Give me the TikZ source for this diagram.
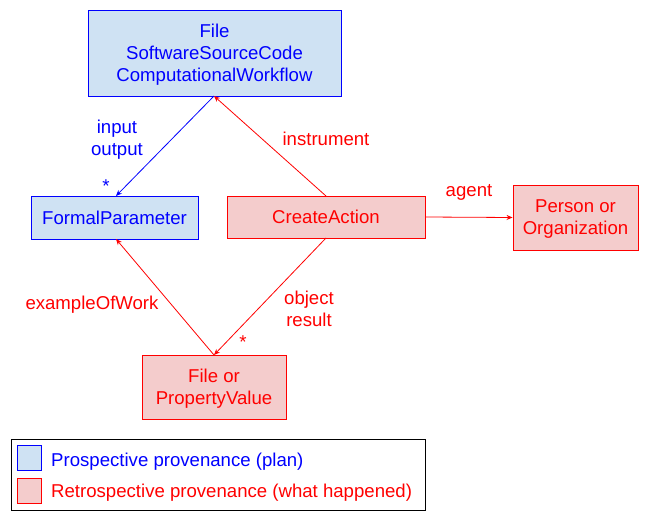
\documentclass[tikz,border=0pt]{standalone}
\usepackage{fontspec}
\setmainfont{Liberation Sans}
\usetikzlibrary{arrows.meta}
\definecolor{bfill}{HTML}{CFE2F3}
\definecolor{rfill}{HTML}{F4CCCC}
\definecolor{bline}{HTML}{0000FF}
\definecolor{rline}{HTML}{FF0000}
\tikzset{
  pro/.style={draw=bline, fill=bfill, text=bline, line width=0.9pt, align=center, inner sep=0pt, font=\fontsize{18.6}{22}\selectfont},
  retro/.style={draw=rline, fill=rfill, text=rline, line width=0.9pt, align=center, inner sep=0pt, font=\fontsize{18.6}{22}\selectfont},
  barrow/.style={draw=bline, line width=0.8pt, -{Stealth[length=6pt,width=5pt]}},
  rarrow/.style={draw=rline, line width=0.8pt, -{Stealth[length=6pt,width=5pt]}},
  blab/.style={text=bline, align=center, font=\fontsize{18.6}{22}\selectfont},
  rlab/.style={text=rline, align=center, font=\fontsize{18.6}{22}\selectfont},
}
\begin{document}
\begin{tikzpicture}[x=1pt,y=-1pt]
\useasboundingbox (0,0) rectangle (651,524);
\node[pro, minimum width=253pt, minimum height=86pt] (file) at (214.5,53) {};
\node[pro, draw=none, fill=none] (filet) at (214.5,54.5) {File\\SoftwareSourceCode\\ComputationalWorkflow};
\node[pro, minimum width=167pt, minimum height=43pt] (fp) at (114.5,217.5) {FormalParameter};
\node[retro, minimum width=198pt, minimum height=42pt] (ca) at (326,217) {CreateAction};
\node[retro, minimum width=125pt, minimum height=65pt] (po) at (575.5,217.5) {};
\node[retro, draw=none, fill=none] (pot) at (575.5,219) {Person or\\Organization};
\node[retro, minimum width=144pt, minimum height=64pt] (fpv) at (214,387) {};
\node[retro, draw=none, fill=none] (fpvtx) at (214,388.5) {File or\\PropertyValue};

\coordinate (fileb) at (214,96);
\coordinate (fpt) at (116,196);
\coordinate (fpb) at (116,239);
\coordinate (cat) at (326,196);
\coordinate (cab) at (326,238);
\coordinate (fpvt) at (214,355);

\draw[barrow] (fileb) -- (fpt);
\draw[rarrow] (cat) -- (fileb);
\draw[rarrow] (ca.east) -- (po.west);
\draw[rarrow] (cab) -- (fpvt);
\draw[rarrow] (fpvt) -- (fpb);

\node[blab] (l1) at (117,139.5) {input\\output};
\node[blab] (s1) at (106,186) {*};
\node[rlab] (l2) at (326,139) {instrument};
\node[rlab] (l3) at (469,192) {agent};
\node[rlab] (l4) at (309,308.5) {object\\result};
\node[rlab] (s2) at (243,342) {*};
\node[rlab] (l5) at (92,305) {exampleOfWork};

\node[draw=black, line width=0.9pt, minimum width=414pt, minimum height=71pt, inner sep=0pt] (leg) at (218,474.5) {};
\node[draw=bline, fill=bfill, line width=0.8pt, minimum width=24pt, minimum height=25pt, inner sep=0pt] (sw1) at (29,457.5) {};
\node[draw=rline, fill=rfill, line width=0.8pt, minimum width=24pt, minimum height=25pt, inner sep=0pt] (sw2) at (29,490.5) {};
\node[blab, anchor=west, inner sep=0pt] (t1) at (51,462) {Prospective provenance (plan)};
\node[rlab, anchor=west, inner sep=0pt] (t2) at (51,493) {Retrospective provenance (what happened)};
\end{tikzpicture}
\end{document}
